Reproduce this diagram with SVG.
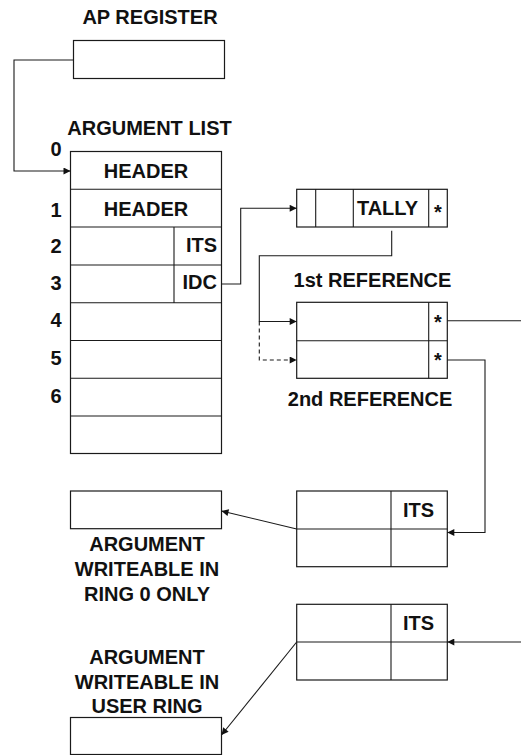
<svg xmlns="http://www.w3.org/2000/svg" width="521" height="755" viewBox="0 0 521 755">
<defs>
<style>
.box{fill:#fff;stroke:#1a1a1a;stroke-width:1.2}
.ln{fill:none;stroke:#1a1a1a;stroke-width:1.1}
.t{font-family:"Liberation Sans",Arial,sans-serif;font-weight:bold;font-size:20px;fill:#111}
.m{text-anchor:middle}
.e{text-anchor:end}
</style>
<marker id="ah" viewBox="0 0 10 10" refX="10" refY="5" markerWidth="8" markerHeight="7" markerUnits="userSpaceOnUse" orient="auto">
<path d="M0,0 L10,5 L0,10 Z" fill="#111"/>
</marker>
</defs>
<rect width="521" height="755" fill="#fff"/>

<g id="ap-register">
<text class="t m" x="150" y="24">AP REGISTER</text>
<rect class="box" x="73.5" y="40.5" width="151" height="38"/>
</g>

<g id="argument-list">
<text class="t m" x="149.5" y="135">ARGUMENT LIST</text>
<rect class="box" x="70.5" y="151.5" width="151" height="302"/>
<path class="ln" d="M70.5,189.3H221.5M70.5,227H221.5M70.5,265H221.5M70.5,302.7H221.5M70.5,340.5H221.5M70.5,378.3H221.5M70.5,416H221.5M174,227V302.7"/>
<text class="t m" x="146" y="177.5">HEADER</text>
<text class="t m" x="146" y="215.5">HEADER</text>
<text class="t e" x="217" y="251.5">ITS</text>
<text class="t e" x="217" y="289">IDC</text>
<text class="t m" x="56" y="156">0</text>
<text class="t m" x="56" y="217">1</text>
<text class="t m" x="56" y="252.5">2</text>
<text class="t m" x="56" y="289.5">3</text>
<text class="t m" x="56" y="327">4</text>
<text class="t m" x="56" y="365">5</text>
<text class="t m" x="56" y="403">6</text>
</g>

<g id="tally">
<rect class="box" x="296.7" y="189.3" width="150.6" height="37.7"/>
<path class="ln" d="M315.7,189.3V227M353.3,189.3V227M428.7,189.3V227"/>
<text class="t m" x="387.5" y="215">TALLY</text>
<text class="t m" x="438" y="219">*</text>
</g>

<g id="references">
<text class="t m" x="372.5" y="286.5">1st REFERENCE</text>
<rect class="box" x="296.7" y="302.3" width="150.6" height="76"/>
<path class="ln" d="M296.7,340.7H447.3M428.7,302.3V378.3"/>
<text class="t m" x="438" y="329">*</text>
<text class="t m" x="438" y="367">*</text>
<text class="t m" x="370" y="405.5">2nd REFERENCE</text>
</g>

<g id="ring0-arg">
<rect class="box" x="70.5" y="491" width="151" height="37.7"/>
<text class="t m" x="147" y="550.5">ARGUMENT</text>
<text class="t m" x="147" y="575.5">WRITEABLE IN</text>
<text class="t m" x="147" y="600.5">RING 0 ONLY</text>
</g>

<g id="its-box-1">
<rect class="box" x="296.7" y="491" width="150.6" height="75.7"/>
<path class="ln" d="M296.7,529H447.3M391,491V566.7"/>
<text class="t m" x="418.5" y="516.5">ITS</text>
</g>

<g id="its-box-2">
<rect class="box" x="296.7" y="604.3" width="150.6" height="75.7"/>
<path class="ln" d="M296.7,642H447.3M391,604.3V680"/>
<text class="t m" x="418.5" y="630">ITS</text>
</g>

<g id="user-ring-arg">
<text class="t m" x="147" y="663.5">ARGUMENT</text>
<text class="t m" x="147" y="688.5">WRITEABLE IN</text>
<text class="t m" x="147" y="713">USER RING</text>
<rect class="box" x="70.5" y="717.5" width="151" height="37"/>
</g>

<g id="connectors">
<path class="ln" d="M73.5,60H14V171H70.5" marker-end="url(#ah)"/>
<path class="ln" d="M221.5,284H240.7V208.3H296.7" marker-end="url(#ah)"/>
<path class="ln" d="M391.7,230.7V255.7H259.3V321.5H296.7" marker-end="url(#ah)"/>
<path class="ln" d="M259.3,321.5V360H296.7" stroke-dasharray="4,3" marker-end="url(#ah)"/>
<path class="ln" d="M447.3,320.7H521"/>
<path class="ln" d="M447.3,360H485V532.5H447.3" marker-end="url(#ah)"/>
<path class="ln" d="M296.7,529L221.5,511" marker-end="url(#ah)"/>
<path class="ln" d="M521,642H447.3" marker-end="url(#ah)"/>
<path class="ln" d="M296.7,642L221.5,735" marker-end="url(#ah)"/>
</g>
</svg>
